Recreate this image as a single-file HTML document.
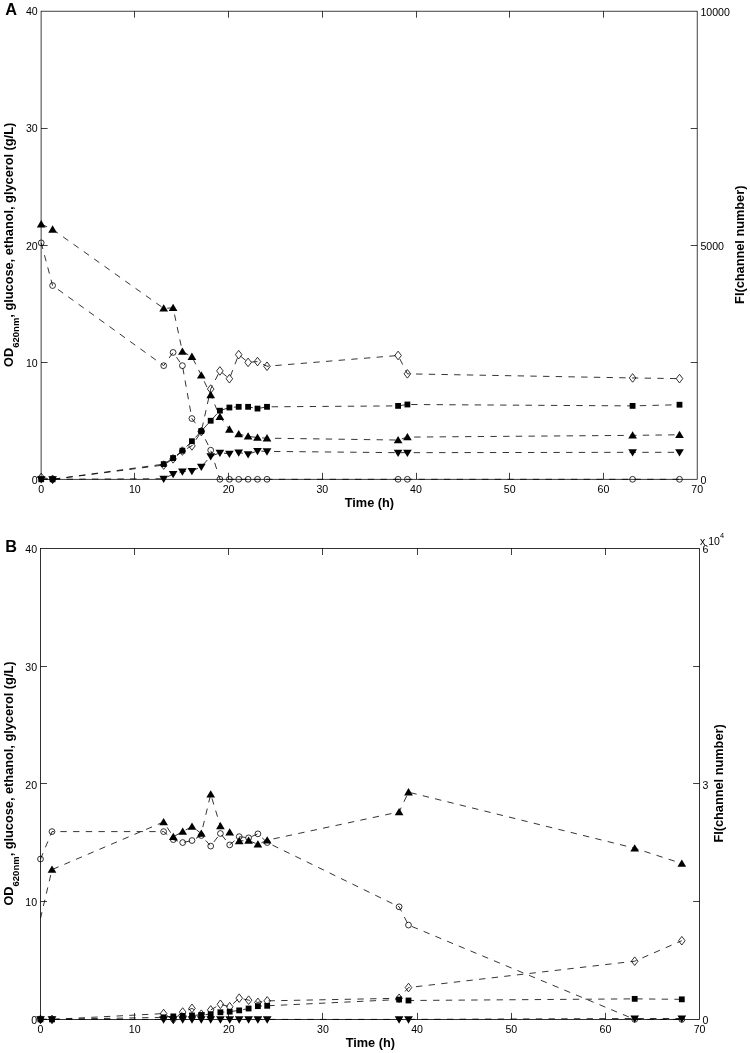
<!DOCTYPE html>
<html lang="en">
<head>
<meta charset="utf-8">
<title>Figure: OD620nm, glucose, ethanol, glycerol and FI over time</title>
<style>
html,body{margin:0;padding:0;background:#fff;}
body{width:750px;height:1053px;overflow:hidden;}
svg{display:block;font-family:"Liberation Sans", sans-serif;fill:#000;}
</style>
</head>
<body>
<svg width="750" height="1053" viewBox="0 0 750 1053">
<rect x="0" y="0" width="750" height="1053" fill="#fff" stroke="none"/>
<rect x="41.1" y="11.2" width="656.1" height="468.1" fill="none" stroke="#000" stroke-width="0.75"/>
<text x="41.1" y="492.7" text-anchor="middle" font-size="10.6">0</text>
<text x="134.83" y="492.7" text-anchor="middle" font-size="10.6">10</text>
<text x="228.56" y="492.7" text-anchor="middle" font-size="10.6">20</text>
<text x="322.29" y="492.7" text-anchor="middle" font-size="10.6">30</text>
<text x="416.01" y="492.7" text-anchor="middle" font-size="10.6">40</text>
<text x="509.74" y="492.7" text-anchor="middle" font-size="10.6">50</text>
<text x="603.47" y="492.7" text-anchor="middle" font-size="10.6">60</text>
<text x="697.2" y="492.7" text-anchor="middle" font-size="10.6">70</text>
<text x="37.7" y="483.55" text-anchor="end" font-size="10.6">0</text>
<text x="37.7" y="366.52" text-anchor="end" font-size="10.6">10</text>
<text x="37.7" y="249.5" text-anchor="end" font-size="10.6">20</text>
<text x="37.7" y="132.47" text-anchor="end" font-size="10.6">30</text>
<text x="37.7" y="15.45" text-anchor="end" font-size="10.6">40</text>
<path d="M134.5 479.3v-6.5M134.5 11.2v6.5M228.5 479.3v-6.5M228.5 11.2v6.5M322.5 479.3v-6.5M322.5 11.2v6.5M416.5 479.3v-6.5M416.5 11.2v6.5M509.5 479.3v-6.5M509.5 11.2v6.5M603.5 479.3v-6.5M603.5 11.2v6.5M41.1 362.5h6.5M697.2 362.5h-6.5M41.1 245.5h6.5M697.2 245.5h-6.5M41.1 128.5h6.5M697.2 128.5h-6.5" stroke="#000" stroke-width="0.75" fill="none"/>
<text x="700.4" y="483.85" font-size="10.6">0</text>
<text x="700.4" y="249.8" font-size="10.6">5000</text>
<text x="700.4" y="15.75" font-size="10.6">10000</text>
<text x="5.2" y="14.6" font-size="16.3" font-weight="bold">A</text>
<text x="369.45" y="507" text-anchor="middle" font-size="12.75" font-weight="bold">Time (h)</text>
<text transform="translate(12.7 244.85) rotate(-90)" text-anchor="middle" font-size="12.75" font-weight="bold">OD<tspan dy="6" font-size="9.5">620nm</tspan><tspan dy="-6">, glucose, ethanol, glycerol (g/L)</tspan></text>
<text transform="translate(744.2 244.75) rotate(-90)" text-anchor="middle" font-size="12.75" font-weight="bold">FI(channel number)</text>
<path d="M41.2 242.86L52.6 285.55L163.7 365.66L173.1 352.44L182.4 365.66L191.9 418.52L201.3 431.15L210.7 450.21L219.9 479.3L229.4 479.3L238.7 479.3L248.1 479.3L257.5 479.3L267 479.3L398.1 479.3L407.4 479.3L632.6 479.3L679.5 479.3" fill="none" stroke="#000" stroke-width="0.8" stroke-dasharray="6.4 6.3"/>
<circle cx="41.2" cy="242.86" r="2.9" fill="none" stroke="#000" stroke-width="0.8"/>
<circle cx="52.6" cy="285.55" r="2.9" fill="none" stroke="#000" stroke-width="0.8"/>
<circle cx="163.7" cy="365.66" r="2.9" fill="none" stroke="#000" stroke-width="0.8"/>
<circle cx="173.1" cy="352.44" r="2.9" fill="none" stroke="#000" stroke-width="0.8"/>
<circle cx="182.4" cy="365.66" r="2.9" fill="none" stroke="#000" stroke-width="0.8"/>
<circle cx="191.9" cy="418.52" r="2.9" fill="none" stroke="#000" stroke-width="0.8"/>
<circle cx="201.3" cy="431.15" r="2.9" fill="none" stroke="#000" stroke-width="0.8"/>
<circle cx="210.7" cy="450.21" r="2.9" fill="none" stroke="#000" stroke-width="0.8"/>
<circle cx="219.9" cy="479.3" r="2.9" fill="none" stroke="#000" stroke-width="0.8"/>
<circle cx="229.4" cy="479.3" r="2.9" fill="none" stroke="#000" stroke-width="0.8"/>
<circle cx="238.7" cy="479.3" r="2.9" fill="none" stroke="#000" stroke-width="0.8"/>
<circle cx="248.1" cy="479.3" r="2.9" fill="none" stroke="#000" stroke-width="0.8"/>
<circle cx="257.5" cy="479.3" r="2.9" fill="none" stroke="#000" stroke-width="0.8"/>
<circle cx="267" cy="479.3" r="2.9" fill="none" stroke="#000" stroke-width="0.8"/>
<circle cx="398.1" cy="479.3" r="2.9" fill="none" stroke="#000" stroke-width="0.8"/>
<circle cx="407.4" cy="479.3" r="2.9" fill="none" stroke="#000" stroke-width="0.8"/>
<circle cx="632.6" cy="479.3" r="2.9" fill="none" stroke="#000" stroke-width="0.8"/>
<circle cx="679.5" cy="479.3" r="2.9" fill="none" stroke="#000" stroke-width="0.8"/>
<path d="M41.2 224.15L52.6 229.41L163.7 308.35L173.1 307.89L182.4 351.62L191.9 356.65L201.3 375.25L210.7 394.9L219.9 416.77L229.4 429.4L238.7 434.07L248.1 436.3L257.5 437.58L267 438.17L398.1 440.04L407.4 437.11L632.6 435.36L679.5 434.78" fill="none" stroke="#000" stroke-width="0.8" stroke-dasharray="6.4 6.3"/>
<path d="M41.2 220.08L45.55 227.38L36.85 227.38Z" fill="#000"/>
<path d="M52.6 225.35L56.95 232.65L48.25 232.65Z" fill="#000"/>
<path d="M163.7 304.29L168.05 311.59L159.35 311.59Z" fill="#000"/>
<path d="M173.1 303.82L177.45 311.12L168.75 311.12Z" fill="#000"/>
<path d="M182.4 347.56L186.75 354.86L178.05 354.86Z" fill="#000"/>
<path d="M191.9 352.59L196.25 359.89L187.55 359.89Z" fill="#000"/>
<path d="M201.3 371.18L205.65 378.48L196.95 378.48Z" fill="#000"/>
<path d="M210.7 390.83L215.05 398.13L206.35 398.13Z" fill="#000"/>
<path d="M219.9 412.7L224.25 420L215.55 420Z" fill="#000"/>
<path d="M229.4 425.33L233.75 432.63L225.05 432.63Z" fill="#000"/>
<path d="M238.7 430.01L243.05 437.31L234.35 437.31Z" fill="#000"/>
<path d="M248.1 432.23L252.45 439.53L243.75 439.53Z" fill="#000"/>
<path d="M257.5 433.52L261.85 440.82L253.15 440.82Z" fill="#000"/>
<path d="M267 434.1L271.35 441.4L262.65 441.4Z" fill="#000"/>
<path d="M398.1 435.97L402.45 443.27L393.75 443.27Z" fill="#000"/>
<path d="M407.4 433.05L411.75 440.35L403.05 440.35Z" fill="#000"/>
<path d="M632.6 431.29L636.95 438.59L628.25 438.59Z" fill="#000"/>
<path d="M679.5 430.71L683.85 438.01L675.15 438.01Z" fill="#000"/>
<path d="M41.2 477.46L52.6 479.3L163.7 465.07L173.1 458.87L182.4 451.03L191.9 445.89L201.3 431.62L210.7 389.05L219.9 370.92L229.4 378.76L238.7 354.67L248.1 362.38L257.5 361.57L267 366.24L398.1 355.48L407.4 373.85L632.6 377.94L679.5 378.64" fill="none" stroke="#000" stroke-width="0.8" stroke-dasharray="6.4 6.3"/>
<path d="M41.2 473.16L44.5 477.46L41.2 481.76L37.9 477.46Z" fill="none" stroke="#000" stroke-width="0.8"/>
<path d="M52.6 475L55.9 479.3L52.6 483.6L49.3 479.3Z" fill="none" stroke="#000" stroke-width="0.8"/>
<path d="M163.7 460.77L167 465.07L163.7 469.37L160.4 465.07Z" fill="none" stroke="#000" stroke-width="0.8"/>
<path d="M173.1 454.57L176.4 458.87L173.1 463.17L169.8 458.87Z" fill="none" stroke="#000" stroke-width="0.8"/>
<path d="M182.4 446.73L185.7 451.03L182.4 455.33L179.1 451.03Z" fill="none" stroke="#000" stroke-width="0.8"/>
<path d="M191.9 441.59L195.2 445.89L191.9 450.19L188.6 445.89Z" fill="none" stroke="#000" stroke-width="0.8"/>
<path d="M201.3 427.32L204.6 431.62L201.3 435.92L198 431.62Z" fill="none" stroke="#000" stroke-width="0.8"/>
<path d="M210.7 384.75L214 389.05L210.7 393.35L207.4 389.05Z" fill="none" stroke="#000" stroke-width="0.8"/>
<path d="M219.9 366.62L223.2 370.92L219.9 375.22L216.6 370.92Z" fill="none" stroke="#000" stroke-width="0.8"/>
<path d="M229.4 374.46L232.7 378.76L229.4 383.06L226.1 378.76Z" fill="none" stroke="#000" stroke-width="0.8"/>
<path d="M238.7 350.37L242 354.67L238.7 358.97L235.4 354.67Z" fill="none" stroke="#000" stroke-width="0.8"/>
<path d="M248.1 358.08L251.4 362.38L248.1 366.68L244.8 362.38Z" fill="none" stroke="#000" stroke-width="0.8"/>
<path d="M257.5 357.27L260.8 361.57L257.5 365.87L254.2 361.57Z" fill="none" stroke="#000" stroke-width="0.8"/>
<path d="M267 361.94L270.3 366.24L267 370.54L263.7 366.24Z" fill="none" stroke="#000" stroke-width="0.8"/>
<path d="M398.1 351.18L401.4 355.48L398.1 359.78L394.8 355.48Z" fill="none" stroke="#000" stroke-width="0.8"/>
<path d="M407.4 369.55L410.7 373.85L407.4 378.15L404.1 373.85Z" fill="none" stroke="#000" stroke-width="0.8"/>
<path d="M632.6 373.64L635.9 377.94L632.6 382.24L629.3 377.94Z" fill="none" stroke="#000" stroke-width="0.8"/>
<path d="M679.5 374.34L682.8 378.64L679.5 382.94L676.2 378.64Z" fill="none" stroke="#000" stroke-width="0.8"/>
<path d="M41.2 479.3L52.6 479.3L163.7 464.13L173.1 458.05L182.4 450.68L191.9 441.21L201.3 431.15L210.7 420.74L219.9 410.68L229.4 407.53L238.7 406.82L248.1 406.82L257.5 408.58L267 406.82L398.1 405.89L407.4 404.49L632.6 405.89L679.5 404.72" fill="none" stroke="#000" stroke-width="0.8" stroke-dasharray="6.4 6.3"/>
<rect x="38.3" y="476.4" width="5.8" height="5.8" fill="#000"/>
<rect x="49.7" y="476.4" width="5.8" height="5.8" fill="#000"/>
<rect x="160.8" y="461.23" width="5.8" height="5.8" fill="#000"/>
<rect x="170.2" y="455.15" width="5.8" height="5.8" fill="#000"/>
<rect x="179.5" y="447.78" width="5.8" height="5.8" fill="#000"/>
<rect x="189" y="438.31" width="5.8" height="5.8" fill="#000"/>
<rect x="198.4" y="428.25" width="5.8" height="5.8" fill="#000"/>
<rect x="207.8" y="417.84" width="5.8" height="5.8" fill="#000"/>
<rect x="217" y="407.78" width="5.8" height="5.8" fill="#000"/>
<rect x="226.5" y="404.63" width="5.8" height="5.8" fill="#000"/>
<rect x="235.8" y="403.92" width="5.8" height="5.8" fill="#000"/>
<rect x="245.2" y="403.92" width="5.8" height="5.8" fill="#000"/>
<rect x="254.6" y="405.68" width="5.8" height="5.8" fill="#000"/>
<rect x="264.1" y="403.92" width="5.8" height="5.8" fill="#000"/>
<rect x="395.2" y="402.99" width="5.8" height="5.8" fill="#000"/>
<rect x="404.5" y="401.59" width="5.8" height="5.8" fill="#000"/>
<rect x="629.7" y="402.99" width="5.8" height="5.8" fill="#000"/>
<rect x="676.6" y="401.82" width="5.8" height="5.8" fill="#000"/>
<path d="M41.2 479.3L52.6 479.3L163.7 478.75L173.1 474.07L182.4 471.5L191.9 471.03L201.3 466.7L210.7 456.29L219.9 452.79L229.4 453.72L238.7 452.44L248.1 454.19L257.5 451.03L267 451.38L398.1 452.67L407.4 452.67L632.6 452.32L679.5 452.32" fill="none" stroke="#000" stroke-width="0.8" stroke-dasharray="6.4 6.3"/>
<path d="M41.2 483.57L45.55 476.27L36.85 476.27Z" fill="#000"/>
<path d="M52.6 483.57L56.95 476.27L48.25 476.27Z" fill="#000"/>
<path d="M163.7 483.02L168.05 475.72L159.35 475.72Z" fill="#000"/>
<path d="M173.1 478.34L177.45 471.04L168.75 471.04Z" fill="#000"/>
<path d="M182.4 475.76L186.75 468.46L178.05 468.46Z" fill="#000"/>
<path d="M191.9 475.3L196.25 468L187.55 468Z" fill="#000"/>
<path d="M201.3 470.97L205.65 463.67L196.95 463.67Z" fill="#000"/>
<path d="M210.7 460.56L215.05 453.26L206.35 453.26Z" fill="#000"/>
<path d="M219.9 457.05L224.25 449.75L215.55 449.75Z" fill="#000"/>
<path d="M229.4 457.99L233.75 450.69L225.05 450.69Z" fill="#000"/>
<path d="M238.7 456.7L243.05 449.4L234.35 449.4Z" fill="#000"/>
<path d="M248.1 458.46L252.45 451.16L243.75 451.16Z" fill="#000"/>
<path d="M257.5 455.3L261.85 448L253.15 448Z" fill="#000"/>
<path d="M267 455.65L271.35 448.35L262.65 448.35Z" fill="#000"/>
<path d="M398.1 456.94L402.45 449.64L393.75 449.64Z" fill="#000"/>
<path d="M407.4 456.94L411.75 449.64L403.05 449.64Z" fill="#000"/>
<path d="M632.6 456.59L636.95 449.29L628.25 449.29Z" fill="#000"/>
<path d="M679.5 456.59L683.85 449.29L675.15 449.29Z" fill="#000"/>
<rect x="40.5" y="548.5" width="659.1" height="470.9" fill="none" stroke="#000" stroke-width="0.8"/>
<text x="40.5" y="1032.8" text-anchor="middle" font-size="10.6">0</text>
<text x="134.66" y="1032.8" text-anchor="middle" font-size="10.6">10</text>
<text x="228.81" y="1032.8" text-anchor="middle" font-size="10.6">20</text>
<text x="322.97" y="1032.8" text-anchor="middle" font-size="10.6">30</text>
<text x="417.13" y="1032.8" text-anchor="middle" font-size="10.6">40</text>
<text x="511.29" y="1032.8" text-anchor="middle" font-size="10.6">50</text>
<text x="605.44" y="1032.8" text-anchor="middle" font-size="10.6">60</text>
<text x="699.6" y="1032.8" text-anchor="middle" font-size="10.6">70</text>
<text x="37.1" y="1024" text-anchor="end" font-size="10.6">0</text>
<text x="37.1" y="906.27" text-anchor="end" font-size="10.6">10</text>
<text x="37.1" y="788.55" text-anchor="end" font-size="10.6">20</text>
<text x="37.1" y="670.83" text-anchor="end" font-size="10.6">30</text>
<text x="37.1" y="553.1" text-anchor="end" font-size="10.6">40</text>
<path d="M134.5 1019.4v-6.5M134.5 548.5v6.5M228.5 1019.4v-6.5M228.5 548.5v6.5M322.5 1019.4v-6.5M322.5 548.5v6.5M417.5 1019.4v-6.5M417.5 548.5v6.5M511.5 1019.4v-6.5M511.5 548.5v6.5M605.5 1019.4v-6.5M605.5 548.5v6.5M40.5 901.5h6.5M699.6 901.5h-6.5M40.5 783.5h6.5M699.6 783.5h-6.5M40.5 666.5h6.5M699.6 666.5h-6.5" stroke="#000" stroke-width="0.75" fill="none"/>
<text x="702.6" y="1023.95" font-size="10.6">0</text>
<text x="702.6" y="788.5" font-size="10.6">3</text>
<text x="702.6" y="553.05" font-size="10.6">6</text>
<text x="700.1" y="545.2" font-size="10.5">x 10<tspan dy="-7.2" font-size="7.4">4</tspan></text>
<text x="5.2" y="551.9" font-size="16.3" font-weight="bold">B</text>
<text x="370.35" y="1047.1" text-anchor="middle" font-size="12.75" font-weight="bold">Time (h)</text>
<text transform="translate(12.7 783.55) rotate(-90)" text-anchor="middle" font-size="12.75" font-weight="bold">OD<tspan dy="6" font-size="9.5">620nm</tspan><tspan dy="-6">, glucose, ethanol, glycerol (g/L)</tspan></text>
<text transform="translate(722.9 783.45) rotate(-90)" text-anchor="middle" font-size="12.75" font-weight="bold">FI(channel number)</text>
<path d="M40.5 859.03L52 831.6L163.6 831.6L173.3 839.61L182.7 842.55L192 840.55L201.3 835.49L210.7 846.08L220.4 833.49L229.7 844.9L239.2 836.66L248.6 837.84L257.9 833.84L267.2 842.55L399.1 906.81L408.5 925.06L634.7 1019.4L681.8 1019.4" fill="none" stroke="#000" stroke-width="0.8" stroke-dasharray="6.4 6.3"/>
<circle cx="40.5" cy="859.03" r="2.9" fill="none" stroke="#000" stroke-width="0.8"/>
<circle cx="52" cy="831.6" r="2.9" fill="none" stroke="#000" stroke-width="0.8"/>
<circle cx="163.6" cy="831.6" r="2.9" fill="none" stroke="#000" stroke-width="0.8"/>
<circle cx="173.3" cy="839.61" r="2.9" fill="none" stroke="#000" stroke-width="0.8"/>
<circle cx="182.7" cy="842.55" r="2.9" fill="none" stroke="#000" stroke-width="0.8"/>
<circle cx="192" cy="840.55" r="2.9" fill="none" stroke="#000" stroke-width="0.8"/>
<circle cx="201.3" cy="835.49" r="2.9" fill="none" stroke="#000" stroke-width="0.8"/>
<circle cx="210.7" cy="846.08" r="2.9" fill="none" stroke="#000" stroke-width="0.8"/>
<circle cx="220.4" cy="833.49" r="2.9" fill="none" stroke="#000" stroke-width="0.8"/>
<circle cx="229.7" cy="844.9" r="2.9" fill="none" stroke="#000" stroke-width="0.8"/>
<circle cx="239.2" cy="836.66" r="2.9" fill="none" stroke="#000" stroke-width="0.8"/>
<circle cx="248.6" cy="837.84" r="2.9" fill="none" stroke="#000" stroke-width="0.8"/>
<circle cx="257.9" cy="833.84" r="2.9" fill="none" stroke="#000" stroke-width="0.8"/>
<circle cx="267.2" cy="842.55" r="2.9" fill="none" stroke="#000" stroke-width="0.8"/>
<circle cx="399.1" cy="906.81" r="2.9" fill="none" stroke="#000" stroke-width="0.8"/>
<circle cx="408.5" cy="925.06" r="2.9" fill="none" stroke="#000" stroke-width="0.8"/>
<circle cx="634.7" cy="1019.4" r="2.9" fill="none" stroke="#000" stroke-width="0.8"/>
<circle cx="681.8" cy="1019.4" r="2.9" fill="none" stroke="#000" stroke-width="0.8"/>
<path d="M40.5 918.35L52 869.62L163.6 821.95L173.3 836.78L182.7 831.6L192 826.54L201.3 833.49L210.7 794.29L220.4 826.07L229.7 832.19L239.2 840.9L248.6 840.55L257.9 844.32L267.2 840.2L399.1 811.95L408.5 792.17L634.7 848.2L681.8 863.5" fill="none" stroke="#000" stroke-width="0.8" stroke-dasharray="6.4 6.3"/>
<path d="M52 865.55L56.35 872.85L47.65 872.85Z" fill="#000"/>
<path d="M163.6 817.89L167.95 825.19L159.25 825.19Z" fill="#000"/>
<path d="M173.3 832.72L177.65 840.02L168.95 840.02Z" fill="#000"/>
<path d="M182.7 827.54L187.05 834.84L178.35 834.84Z" fill="#000"/>
<path d="M192 822.48L196.35 829.78L187.65 829.78Z" fill="#000"/>
<path d="M201.3 829.42L205.65 836.72L196.95 836.72Z" fill="#000"/>
<path d="M210.7 790.23L215.05 797.53L206.35 797.53Z" fill="#000"/>
<path d="M220.4 822.01L224.75 829.31L216.05 829.31Z" fill="#000"/>
<path d="M229.7 828.13L234.05 835.43L225.35 835.43Z" fill="#000"/>
<path d="M239.2 836.84L243.55 844.14L234.85 844.14Z" fill="#000"/>
<path d="M248.6 836.48L252.95 843.78L244.25 843.78Z" fill="#000"/>
<path d="M257.9 840.25L262.25 847.55L253.55 847.55Z" fill="#000"/>
<path d="M267.2 836.13L271.55 843.43L262.85 843.43Z" fill="#000"/>
<path d="M399.1 807.88L403.45 815.18L394.75 815.18Z" fill="#000"/>
<path d="M408.5 788.11L412.85 795.41L404.15 795.41Z" fill="#000"/>
<path d="M634.7 844.13L639.05 851.43L630.35 851.43Z" fill="#000"/>
<path d="M681.8 859.43L686.15 866.73L677.45 866.73Z" fill="#000"/>
<path d="M40.5 1019.4L52 1019.4L163.6 1013.57L173.3 1019.4L182.7 1012.04L192 1008.39L201.3 1014.16L210.7 1009.92L220.4 1004.27L229.7 1006.74L239.2 998.15L248.6 1000.15L257.9 1002.39L267.2 1000.86L399.1 998.27L408.5 987.56L634.7 961.19L681.8 940.71" fill="none" stroke="#000" stroke-width="0.8" stroke-dasharray="6.4 6.3"/>
<path d="M40.5 1015.1L43.8 1019.4L40.5 1023.7L37.2 1019.4Z" fill="none" stroke="#000" stroke-width="0.8"/>
<path d="M52 1015.1L55.3 1019.4L52 1023.7L48.7 1019.4Z" fill="none" stroke="#000" stroke-width="0.8"/>
<path d="M163.6 1009.27L166.9 1013.57L163.6 1017.87L160.3 1013.57Z" fill="none" stroke="#000" stroke-width="0.8"/>
<path d="M173.3 1015.1L176.6 1019.4L173.3 1023.7L170 1019.4Z" fill="none" stroke="#000" stroke-width="0.8"/>
<path d="M182.7 1007.74L186 1012.04L182.7 1016.34L179.4 1012.04Z" fill="none" stroke="#000" stroke-width="0.8"/>
<path d="M192 1004.09L195.3 1008.39L192 1012.69L188.7 1008.39Z" fill="none" stroke="#000" stroke-width="0.8"/>
<path d="M201.3 1009.86L204.6 1014.16L201.3 1018.46L198 1014.16Z" fill="none" stroke="#000" stroke-width="0.8"/>
<path d="M210.7 1005.62L214 1009.92L210.7 1014.22L207.4 1009.92Z" fill="none" stroke="#000" stroke-width="0.8"/>
<path d="M220.4 999.97L223.7 1004.27L220.4 1008.57L217.1 1004.27Z" fill="none" stroke="#000" stroke-width="0.8"/>
<path d="M229.7 1002.44L233 1006.74L229.7 1011.04L226.4 1006.74Z" fill="none" stroke="#000" stroke-width="0.8"/>
<path d="M239.2 993.85L242.5 998.15L239.2 1002.45L235.9 998.15Z" fill="none" stroke="#000" stroke-width="0.8"/>
<path d="M248.6 995.85L251.9 1000.15L248.6 1004.45L245.3 1000.15Z" fill="none" stroke="#000" stroke-width="0.8"/>
<path d="M257.9 998.09L261.2 1002.39L257.9 1006.69L254.6 1002.39Z" fill="none" stroke="#000" stroke-width="0.8"/>
<path d="M267.2 996.56L270.5 1000.86L267.2 1005.16L263.9 1000.86Z" fill="none" stroke="#000" stroke-width="0.8"/>
<path d="M399.1 993.97L402.4 998.27L399.1 1002.57L395.8 998.27Z" fill="none" stroke="#000" stroke-width="0.8"/>
<path d="M408.5 983.26L411.8 987.56L408.5 991.86L405.2 987.56Z" fill="none" stroke="#000" stroke-width="0.8"/>
<path d="M634.7 956.89L638 961.19L634.7 965.49L631.4 961.19Z" fill="none" stroke="#000" stroke-width="0.8"/>
<path d="M681.8 936.41L685.1 940.71L681.8 945.01L678.5 940.71Z" fill="none" stroke="#000" stroke-width="0.8"/>
<path d="M40.5 1019.4L52 1019.4L163.6 1017.33L173.3 1016.39L182.7 1015.92L192 1015.45L201.3 1014.98L210.7 1014.16L220.4 1012.27L229.7 1011.68L239.2 1010.39L248.6 1008.51L257.9 1006.15L267.2 1005.8L399.1 999.56L408.5 1000.5L634.7 998.86L681.8 999.33" fill="none" stroke="#000" stroke-width="0.8" stroke-dasharray="6.4 6.3"/>
<rect x="37.6" y="1016.5" width="5.8" height="5.8" fill="#000"/>
<rect x="49.1" y="1016.5" width="5.8" height="5.8" fill="#000"/>
<rect x="160.7" y="1014.43" width="5.8" height="5.8" fill="#000"/>
<rect x="170.4" y="1013.49" width="5.8" height="5.8" fill="#000"/>
<rect x="179.8" y="1013.02" width="5.8" height="5.8" fill="#000"/>
<rect x="189.1" y="1012.55" width="5.8" height="5.8" fill="#000"/>
<rect x="198.4" y="1012.08" width="5.8" height="5.8" fill="#000"/>
<rect x="207.8" y="1011.26" width="5.8" height="5.8" fill="#000"/>
<rect x="217.5" y="1009.37" width="5.8" height="5.8" fill="#000"/>
<rect x="226.8" y="1008.78" width="5.8" height="5.8" fill="#000"/>
<rect x="236.3" y="1007.49" width="5.8" height="5.8" fill="#000"/>
<rect x="245.7" y="1005.61" width="5.8" height="5.8" fill="#000"/>
<rect x="255" y="1003.25" width="5.8" height="5.8" fill="#000"/>
<rect x="264.3" y="1002.9" width="5.8" height="5.8" fill="#000"/>
<rect x="396.2" y="996.66" width="5.8" height="5.8" fill="#000"/>
<rect x="405.6" y="997.6" width="5.8" height="5.8" fill="#000"/>
<rect x="631.8" y="995.96" width="5.8" height="5.8" fill="#000"/>
<rect x="678.9" y="996.43" width="5.8" height="5.8" fill="#000"/>
<path d="M40.5 1019.4L52 1019.4L163.6 1019.4L173.3 1019.4L182.7 1019.4L192 1019.4L201.3 1019.4L210.7 1019.4L220.4 1019.4L229.7 1019.4L239.2 1019.4L248.6 1019.4L257.9 1019.4L267.2 1019.4L399.1 1019.4L408.5 1019.4L634.7 1018.51L681.8 1018.51" fill="none" stroke="#000" stroke-width="0.8" stroke-dasharray="6.4 6.3"/>
<path d="M40.5 1023.67L44.85 1016.37L36.15 1016.37Z" fill="#000"/>
<path d="M52 1023.67L56.35 1016.37L47.65 1016.37Z" fill="#000"/>
<path d="M163.6 1023.67L167.95 1016.37L159.25 1016.37Z" fill="#000"/>
<path d="M173.3 1023.67L177.65 1016.37L168.95 1016.37Z" fill="#000"/>
<path d="M182.7 1023.67L187.05 1016.37L178.35 1016.37Z" fill="#000"/>
<path d="M192 1023.67L196.35 1016.37L187.65 1016.37Z" fill="#000"/>
<path d="M201.3 1023.67L205.65 1016.37L196.95 1016.37Z" fill="#000"/>
<path d="M210.7 1023.67L215.05 1016.37L206.35 1016.37Z" fill="#000"/>
<path d="M220.4 1023.67L224.75 1016.37L216.05 1016.37Z" fill="#000"/>
<path d="M229.7 1023.67L234.05 1016.37L225.35 1016.37Z" fill="#000"/>
<path d="M239.2 1023.67L243.55 1016.37L234.85 1016.37Z" fill="#000"/>
<path d="M248.6 1023.67L252.95 1016.37L244.25 1016.37Z" fill="#000"/>
<path d="M257.9 1023.67L262.25 1016.37L253.55 1016.37Z" fill="#000"/>
<path d="M267.2 1023.67L271.55 1016.37L262.85 1016.37Z" fill="#000"/>
<path d="M399.1 1023.67L403.45 1016.37L394.75 1016.37Z" fill="#000"/>
<path d="M408.5 1023.67L412.85 1016.37L404.15 1016.37Z" fill="#000"/>
<path d="M634.7 1022.78L639.05 1015.48L630.35 1015.48Z" fill="#000"/>
<path d="M681.8 1022.78L686.15 1015.48L677.45 1015.48Z" fill="#000"/>
</svg>
</body>
</html>
